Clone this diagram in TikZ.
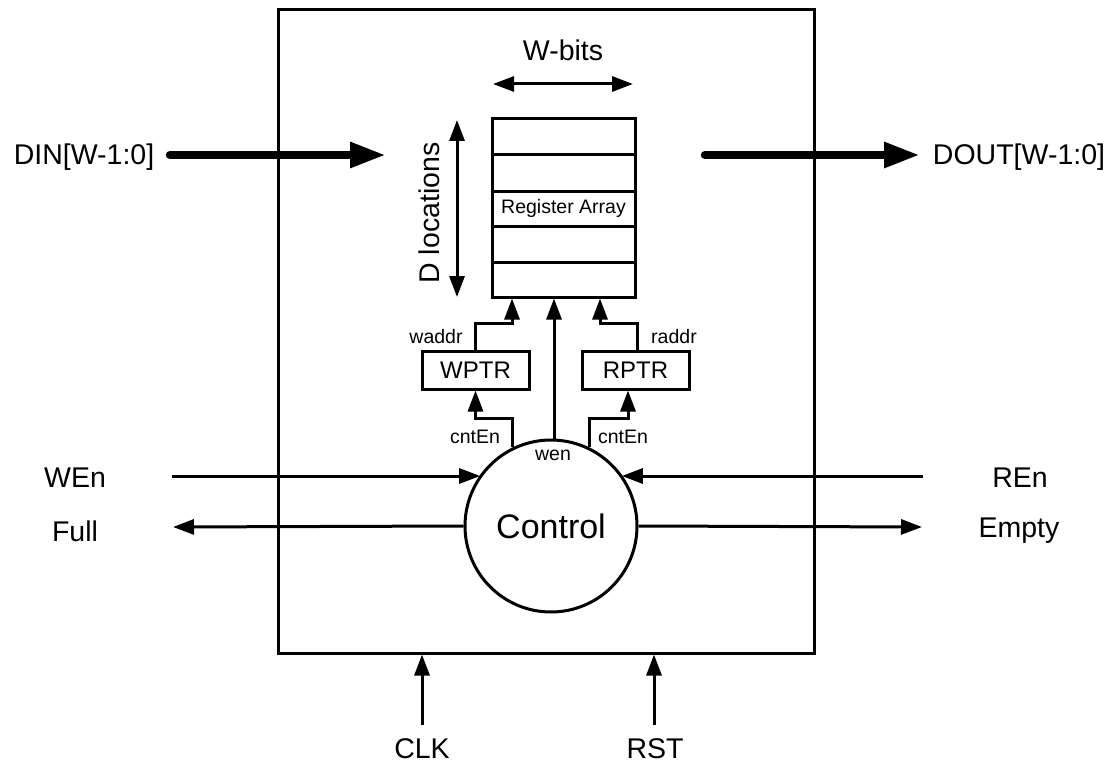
\documentclass[tikz,border=0pt]{standalone}
\usepackage{fontspec}
\setmainfont{Liberation Sans}
\usetikzlibrary{arrows.meta}

\begin{document}
\begin{tikzpicture}[x=1pt,y=-1pt,
  wire/.style={line width=3pt},
  tip/.tip={Triangle[length=21pt,width=15pt]},
  arr/.style={wire,-tip},
  dblarr/.style={wire,tip-tip},
  bus/.style={line width=8.5pt,line cap=round,-{Triangle[length=36pt,width=24pt]}},
  box/.style={draw,wire,inner sep=0pt},
  biglbl/.style={font=\fontsize{28.5pt}{32pt}\selectfont,inner sep=0pt},
  smalllbl/.style={font=\fontsize{19.5pt}{22pt}\selectfont,inner sep=0pt},
  ptrbox/.style={box,minimum width=107pt,minimum height=38pt,font=\fontsize{24pt}{28pt}\selectfont}
]
\useasboundingbox (0,0) rectangle (1114,765);

% FIFO outline
\node[box,minimum width=536pt,minimum height=643pt] (fifo) at (546,331.5) {};

% register array with its rows
\node[box,minimum width=143pt,minimum height=178pt,
      font=\fontsize{19.5pt}{22pt}\selectfont] (reg) at (563.5,208) {Register Array};
\foreach \yy in {155,191,226,262}
  \draw[wire] (reg.west |- 0,\yy) -- (reg.east |- 0,\yy);

% dimension arrows
\coordinate (wbL) at (493,84);
\coordinate (wbR) at (633,84);
\draw[dblarr] (wbL) -- (wbR);
\node[biglbl] (wbits) at (563,50) {W-bits};
\coordinate (dlT) at (457,120);
\coordinate (dlB) at (457,297);
\draw[dblarr] (dlT) -- (dlB);
\node[biglbl,rotate=90] (dloc) at (429,213) {D locations};

% pointers and control
\node[ptrbox] (wptr) at (475.5,370) {WPTR};
\node[ptrbox] (rptr) at (635.5,370) {RPTR};
\node[draw,wire,circle,minimum size=172pt,inner sep=0pt,
      font=\fontsize{34pt}{38pt}\selectfont] (ctrl) at (551,526) {Control};

% data buses
\node[biglbl] (din) at (84,157) {DIN[W-1:0]};
\node[biglbl] (dout) at (1019,157) {DOUT[W-1:0]};
\coordinate (dinS) at (170,155);
\coordinate (dinT) at (386,155);
\coordinate (doutS) at (705,155);
\coordinate (doutT) at (920,155);
\draw[bus] (dinS) -- (dinT);
\draw[bus] (doutS) -- (doutT);

% addresses and write enable
\draw[arr] (wptr.north) -- (wptr.north |- 0,323) -| ([xshift=-51.5pt]reg.south);
\node[smalllbl] (waddr) at (436,337) {waddr};
\draw[arr] ([xshift=1.5pt]rptr.north) -- ([xshift=1.5pt]rptr.north |- 0,323) -| ([xshift=36.5pt]reg.south);
\node[smalllbl] (raddr) at (674,337) {raddr};
\draw[arr] ([xshift=3pt]ctrl.north) -- ([xshift=3pt]ctrl.north |- reg.south);
\node[smalllbl] (wen) at (553,455) {wen};

% counter enables
\draw[arr] (ctrl.116) -- (ctrl.116 |- 0,418) -| (wptr.south);
\node[smalllbl] (cntw) at (475,437) {cntEn};
\draw[arr] (ctrl.64) -- (ctrl.64 |- 0,418) -| ([xshift=-7.5pt]rptr.south);
\node[smalllbl] (cntr) at (623,437) {cntEn};

% handshake signals
\node[biglbl] (wenL) at (75,478) {WEn};
\node[biglbl] (full) at (75,531) {Full};
\node[biglbl] (renL) at (1020,478) {REn};
\node[biglbl] (empty) at (1019,531) {Empty};
\coordinate (wenS) at (172,476);
\coordinate (renS) at (923,476);
\coordinate (fullT) at (173,527);
\coordinate (emptyT) at (922,527);
\draw[arr] (wenS) -- (wenS -| ctrl.144);
\draw[arr] (ctrl.west) -- (fullT);
\draw[arr] (renS) -- (renS -| ctrl.36);
\draw[arr] (ctrl.east) -- (emptyT);

% clock and reset
\node[biglbl] (clk) at (422,749) {CLK};
\node[biglbl] (rst) at (655,749) {RST};
\coordinate (clkS) at (422,725);
\coordinate (rstS) at (654,725);
\draw[arr] (clkS) -- (clkS |- fifo.south);
\draw[arr] (rstS) -- (rstS |- fifo.south);
\end{tikzpicture}
\end{document}
